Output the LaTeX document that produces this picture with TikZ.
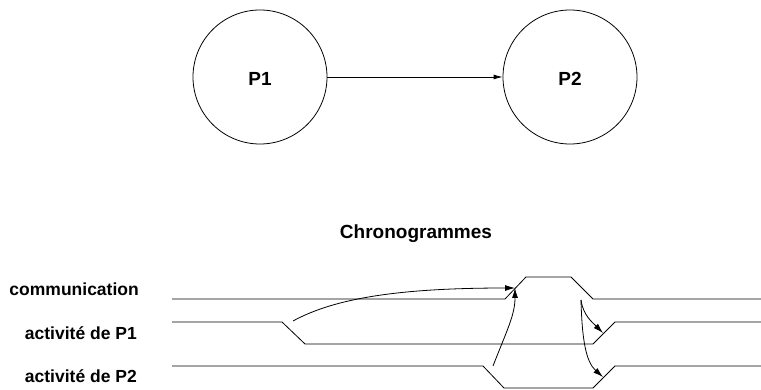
\documentclass[tikz,border=0pt]{standalone}
\usepackage{fontspec}
\setmainfont{Liberation Sans}
\usetikzlibrary{arrows.meta}
\begin{document}
\begin{tikzpicture}[x=1pt,y=-1pt,
  proc/.style={draw, circle, minimum size=134pt, inner sep=0pt, line width=0.8pt,
    text height=17.5pt, text depth=0pt,
    font=\fontsize{19}{22}\selectfont\bfseries},
  lbl/.style={anchor=base east, inner sep=0pt, font=\fontsize{17.5}{21}\selectfont\bfseries},
  ttl/.style={anchor=base, inner sep=0pt, font=\fontsize{19}{22}\selectfont\bfseries},
  sig/.style={line width=0.8pt},
  flow/.style={line width=0.8pt, -{Latex[length=10pt,width=6pt]}},
  link/.style={line width=0.8pt, -{Latex[length=9pt,width=5pt]}},
]
\useasboundingbox (0,0) rectangle (761,390);

% process graph
\node[proc] (p1) at (260,77) {P1};
\node[proc] (p2) at (570,77) {P2};
\draw[link] (p1) -- (p2);

% title
\node[ttl] (title) at (416,239) {Chronogrammes};

% labels
\node[lbl] (lcom) at (139,296) {communication};
\node[lbl] (lp1) at (137,339) {activité de P1};
\node[lbl] (lp2) at (137,382) {activité de P2};

% signals
\draw[sig] (172,299) -- (505,299) -- (526,277) -- (571,277) -- (593,299) -- (761,299);
\draw[sig] (172,322) -- (282,322) -- (305,344) -- (593,344) -- (615,322) -- (761,322);
\draw[sig] (172,366) -- (483,366) -- (504,388) -- (593,388) -- (615,366) -- (761,366);

% causal arrows
\coordinate (s1) at (293,321);
\coordinate (s2) at (493,366);
\coordinate (cm) at (515,288);
\coordinate (s3) at (581,300);
\coordinate (e1) at (603,333);
\coordinate (e2) at (603,377);

\draw[flow] (s1) .. controls (335,298) and (400,288) .. (cm);
\draw[flow] (s2) .. controls (507,330) and (515,315) .. (cm);
\draw[flow] (s3) .. controls (583,315) and (592,322) .. (e1);
\draw[flow] (s3) .. controls (582,340) and (586,362) .. (e2);
\end{tikzpicture}
\end{document}
